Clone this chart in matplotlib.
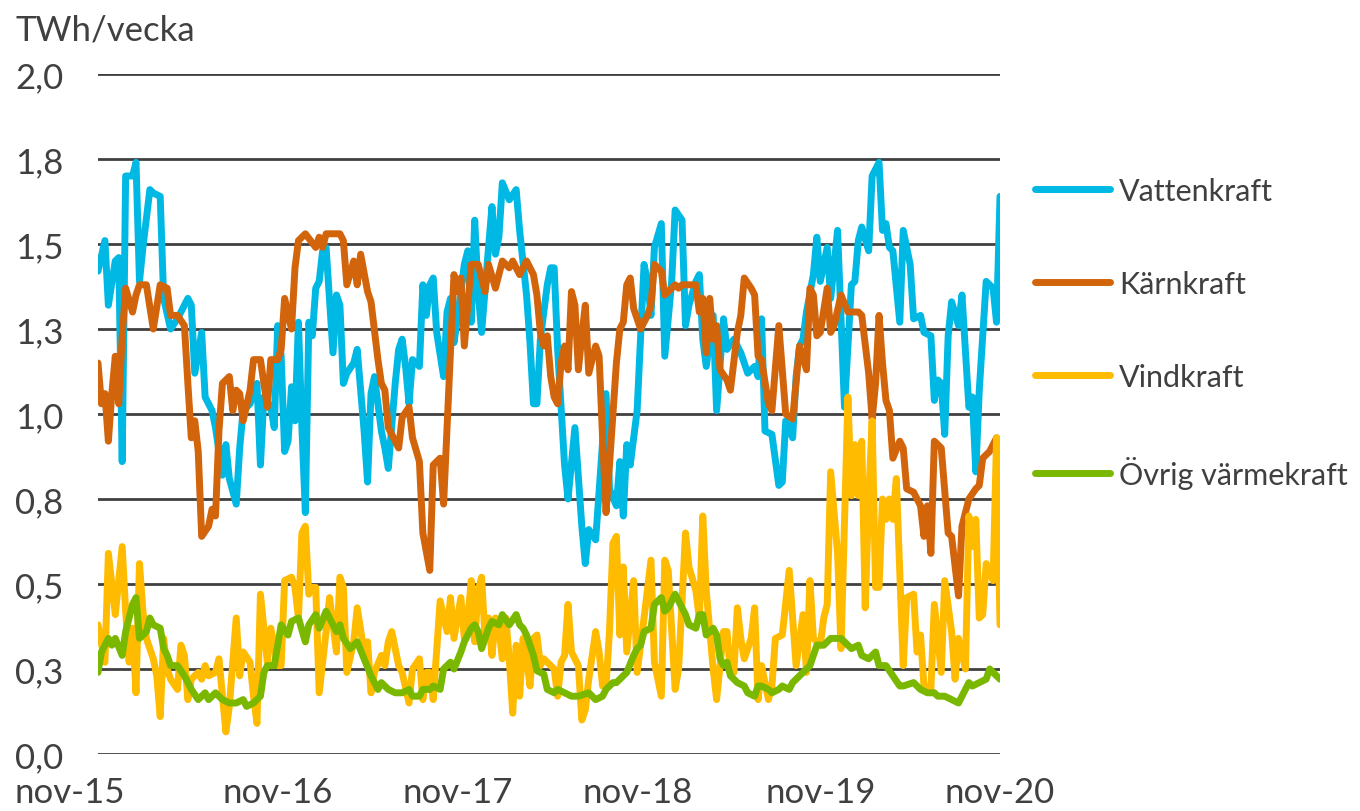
import matplotlib
matplotlib.use("Agg")
import matplotlib.pyplot as plt
import matplotlib.transforms as mtransforms

# weekly production, TWh/vecka, (week since nov-15, value)
vatten = [(0,1.42),(2,1.51),(3,1.32),(5,1.45),(6,1.46),(7,0.86),(8,1.70),(10,1.70),(11,1.74),(12,1.39),
          (13,1.49),(15,1.66),(16,1.65),(18,1.64),(19,1.34),(21,1.25),(23,1.28),(25,1.32),(26,1.34),(27,1.32),
          (28,1.12),(30,1.24),(31,1.05),(33,1.01),(34,0.96),(36,0.82),(37,0.91),(38,0.81),(40,0.735),(41,0.90),
          (42,1.01),(44,1.03),(46,1.09),(47,0.85),(48,1.05),(50,1.02),(51,0.96),(52,1.26),(53,1.17),(54,0.89),
          (55,0.92),(56,1.08),(57,0.98),(58,1.27),(59,0.96),(60,0.71),(61,1.27),(62,1.23),(63,1.37),(64,1.39),
          (65,1.48),(66,1.49),(68,1.18),(69,1.35),(70,1.32),(71,1.09),(72,1.12),(74,1.15),(75,1.19),(76,1.07),
          (77,0.95),(78,0.80),(79,1.06),(80,1.11),(82,0.95),(83,0.90),(84,0.84),(86,1.09),(87,1.19),(88,1.22),
          (89,1.14),(90,1.03),(91,1.16),(93,1.14),(94,1.38),(95,1.29),(96,1.38),(97,1.40),(98,1.24),(100,1.11),
          (101,1.30),(102,1.34),(103,1.21),(104,1.28),(106,1.44),(107,1.48),(108,1.27),(109,1.57),(110,1.36),(111,1.24),
          (113,1.49),(114,1.61),(115,1.47),(116,1.52),(117,1.68),(119,1.63),(121,1.66),(122,1.54),(124,1.35),(125,1.21),
          (126,1.03),(127,1.03),(128,1.22),(130,1.38),(131,1.43),(132,1.43),(133,1.19),(135,0.85),(136,0.75),(138,0.96),
          (140,0.67),(141,0.56),(142,0.66),(144,0.63),(147,1.06),(148,0.78),(150,0.73),(151,0.86),(152,0.70),(153,0.91),
          (154,0.85),(156,1.01),(158,1.44),(159,1.39),(160,1.29),(161,1.49),(163,1.56),(164,1.17),(166,1.39),(167,1.60),
          (169,1.57),(170,1.26),(171,1.32),(173,1.39),(174,1.41),(175,1.22),(176,1.14),(178,1.29),(179,1.01),(181,1.28),
          (182,1.19),(184,1.22),(186,1.18),(187,1.15),(188,1.12),(190,1.14),(191,1.11),(192,1.28),(193,0.95),(195,0.94),
          (197,0.79),(198,0.80),(199,0.98),(201,0.93),(202,1.11),(203,1.20),(204,1.22),(205,1.30),(207,1.41),(208,1.52),
          (209,1.39),(211,1.49),(212,1.34),(214,1.54),(216,1.02),(218,1.38),(219,1.39),(220,1.51),(221,1.55),(223,1.48),
          (224,1.70),(226,1.74),(227,1.54),(228,1.56),(229,1.49),(230,1.48),(232,1.27),(233,1.54),(235,1.44),(236,1.28),
          (238,1.29),(239,1.24),(241,1.23),(242,1.04),(243,1.10),(244,1.09),(245,0.94),(246,1.23),(247,1.33),(249,1.26),
          (250,1.35),(252,1.02),(253,1.05),(254,0.83),(255,1.07),(257,1.39),(259,1.37),(260,1.27),(261,1.64)]

karn = [(0,1.15),(1,1.03),(2,1.06),(3,0.92),(4,1.06),(5,1.17),(6,1.03),(7,1.23),(8,1.37),(10,1.30),
        (11,1.35),(12,1.38),(14,1.38),(16,1.25),(18,1.38),(20,1.37),(21,1.29),(23,1.29),(25,1.26),(26,1.09),
        (27,0.93),(28,0.98),(29,0.89),(30,0.64),(32,0.67),(33,0.72),(34,0.70),(35,0.95),(36,1.09),(38,1.11),
        (39,1.01),(40,1.07),(41,1.06),(42,0.98),(44,1.07),(45,1.16),(47,1.16),(49,1.02),(50,1.16),(52,1.16),
        (53,1.19),(54,1.34),(56,1.25),(57,1.43),(58,1.51),(60,1.53),(63,1.49),(64,1.52),(65,1.49),(66,1.53),
        (70,1.53),(71,1.51),(72,1.38),(74,1.45),(75,1.38),(76,1.47),(78,1.36),(79,1.33),(81,1.16),(82,1.09),
        (83,1.07),(84,0.96),(87,0.90),(88,0.99),(90,1.02),(91,0.93),(93,0.86),(94,0.65),(96,0.54),(97,0.85),
        (99,0.87),(100,0.735),(103,1.41),(104,1.36),(105,1.40),(106,1.20),(108,1.44),(110,1.44),(112,1.36),
        (113,1.44),(115,1.37),(117,1.45),(119,1.43),(120,1.45),(122,1.41),(124,1.45),(126,1.41),(127,1.35),(128,1.24),
        (129,1.20),(130,1.23),(131,1.11),(132,1.05),(133,1.03),(134,1.15),(135,1.20),(136,1.13),(137,1.36),(138,1.32),
        (139,1.13),(140,1.23),(141,1.32),(142,1.12),(144,1.20),(145,1.17),(146,0.93),(147,0.71),(148,0.85),(150,1.15),
        (151,1.25),(152,1.27),(153,1.38),(154,1.40),(155,1.31),(157,1.25),(159,1.29),(160,1.32),(161,1.44),(163,1.42),
        (164,1.35),(165,1.36),(167,1.38),(168,1.37),(169,1.38),(173,1.38),(174,1.30),(175,1.34),(176,1.18),(177,1.34),
        (178,1.22),(179,1.26),(180,1.13),(182,1.10),(183,1.07),(185,1.24),(186,1.29),(187,1.40),(189,1.37),(190,1.35),
        (191,1.17),(192,1.16),(194,1.03),(195,1.01),(197,1.26),(199,1.00),(201,0.985),(203,1.20),(205,1.13),(206,1.37),
        (207,1.35),(208,1.23),(209,1.24),(211,1.37),(212,1.24),(213,1.26),(215,1.35),(217,1.30),(220,1.30),(221,1.29),
        (223,1.12),(224,0.985),(225,1.09),(226,1.29),(227,1.15),(228,1.04),(229,1.01),(230,0.87),(232,0.92),(233,0.90),
        (234,0.78),(236,0.77),(238,0.73),(239,0.64),(240,0.73),(241,0.59),(242,0.92),(244,0.90),(246,0.65),(247,0.64),
        (249,0.465),(250,0.67),(252,0.75),(254,0.78),(255,0.79),(256,0.87),(258,0.89),(260,0.93),(261,0.82)]

vind = [(0,0.38),(2,0.27),(3,0.59),(5,0.41),(7,0.61),(8,0.42),(9,0.27),(10,0.37),(11,0.18),(12,0.56),
        (13,0.42),(14,0.34),(16,0.28),(17,0.23),(18,0.11),(19,0.34),(20,0.25),(21,0.22),(23,0.19),(24,0.32),
        (25,0.29),(26,0.16),(27,0.22),(29,0.24),(30,0.22),(31,0.26),(32,0.23),(34,0.24),(35,0.28),(37,0.065),
        (38,0.14),(40,0.40),(41,0.23),(42,0.30),(44,0.27),(45,0.17),(46,0.09),(47,0.47),(49,0.27),(50,0.37),
        (52,0.26),(53,0.26),(54,0.51),(56,0.52),(57,0.49),(58,0.40),(59,0.65),(60,0.67),(61,0.47),(62,0.49),
        (63,0.49),(64,0.18),(66,0.36),(67,0.46),(69,0.30),(70,0.52),(71,0.49),(72,0.24),(74,0.33),(75,0.43),
        (77,0.30),(78,0.33),(79,0.18),(80,0.24),(82,0.29),(83,0.26),(84,0.33),(85,0.36),(87,0.26),(88,0.24),
        (90,0.15),(91,0.25),(93,0.28),(94,0.16),(95,0.24),(96,0.24),(97,0.16),(99,0.45),(101,0.36),(102,0.46),
        (103,0.34),(104,0.40),(105,0.46),(106,0.34),(107,0.40),(108,0.51),(109,0.33),(110,0.48),(111,0.52),(112,0.34),
        (113,0.40),(114,0.29),(115,0.40),(116,0.37),(117,0.28),(118,0.40),(119,0.28),(120,0.12),(121,0.32),(122,0.17),
        (123,0.34),(124,0.28),(125,0.20),(126,0.34),(127,0.35),(128,0.26),(129,0.28),(132,0.25),(133,0.17),(134,0.27),
        (135,0.29),(136,0.44),(137,0.30),(139,0.26),(140,0.10),(141,0.13),(142,0.22),(144,0.36),(145,0.30),(146,0.20),
        (147,0.20),(148,0.36),(149,0.62),(150,0.64),(151,0.35),(152,0.55),(153,0.30),(155,0.51),(156,0.24),(158,0.40),
        (160,0.57),(161,0.27),(163,0.17),(164,0.57),(165,0.54),(167,0.19),(168,0.25),(170,0.65),(171,0.55),(173,0.48),
        (174,0.40),(175,0.70),(176,0.48),(178,0.25),(179,0.16),(181,0.36),(182,0.36),(183,0.24),(184,0.24),(185,0.43),
        (186,0.34),(187,0.28),(189,0.34),(190,0.43),(191,0.16),(192,0.26),(194,0.16),(195,0.20),(196,0.34),(198,0.35),
        (200,0.54),(201,0.40),(202,0.26),(204,0.41),(205,0.24),(206,0.51),(207,0.34),(209,0.32),(210,0.40),(211,0.44),
        (212,0.83),(214,0.59),(215,0.31),(217,1.05),(218,0.76),(219,0.91),(220,0.76),(221,0.92),(222,0.43),(223,0.75),
        (224,0.98),(225,0.49),(226,0.49),(227,0.75),(228,0.69),(229,0.75),(230,0.69),(231,0.81),(233,0.26),(234,0.46),
        (236,0.47),(237,0.30),(238,0.35),(239,0.20),(241,0.19),(242,0.44),(244,0.24),(245,0.51),(247,0.36),(248,0.22),
        (249,0.34),(251,0.25),(252,0.70),(253,0.61),(254,0.69),(255,0.40),(256,0.41),(257,0.56),(259,0.51),(260,0.93),
        (261,0.38)]

ovrig = [(0,0.24),(1,0.30),(3,0.34),(4,0.32),(5,0.34),(7,0.29),(8,0.36),(10,0.44),(11,0.46),(12,0.34),
         (14,0.36),(15,0.40),(16,0.38),(18,0.37),(19,0.31),(20,0.29),(21,0.26),(23,0.26),(25,0.23),(27,0.19),
         (29,0.16),(31,0.18),(32,0.16),(34,0.18),(36,0.16),(38,0.15),(40,0.15),(42,0.16),(43,0.14),(45,0.15),
         (47,0.17),(48,0.24),(49,0.26),(51,0.26),(53,0.38),(55,0.35),(56,0.39),(58,0.40),(60,0.33),(61,0.38),
         (63,0.41),(64,0.37),(66,0.42),(68,0.38),(69,0.36),(70,0.38),(71,0.34),(73,0.31),(75,0.33),(77,0.28),
         (79,0.23),(81,0.19),(82,0.21),(84,0.19),(86,0.18),(88,0.18),(90,0.19),(91,0.17),(93,0.17),(94,0.19),
         (96,0.19),(97,0.20),(99,0.19),(100,0.25),(101,0.26),(102,0.27),(103,0.25),(105,0.30),(106,0.33),(108,0.37),
         (109,0.38),(110,0.36),(111,0.31),(113,0.37),(114,0.39),(116,0.38),(117,0.41),(119,0.38),(121,0.41),(122,0.38),
         (123,0.37),(124,0.35),(126,0.29),(127,0.245),(129,0.235),(130,0.19),(132,0.18),(133,0.19),(135,0.18),(137,0.17),
         (139,0.17),(142,0.18),(143,0.17),(144,0.16),(146,0.17),(147,0.19),(149,0.21),(150,0.21),(152,0.23),(153,0.24),
         (155,0.29),(156,0.31),(157,0.32),(158,0.36),(160,0.37),(161,0.44),(163,0.46),(164,0.42),(165,0.43),(167,0.47),
         (168,0.45),(170,0.41),(171,0.38),(173,0.37),(174,0.41),(175,0.41),(176,0.35),(178,0.37),(179,0.35),(180,0.28),
         (181,0.26),(182,0.27),(183,0.23),(185,0.21),(187,0.20),(188,0.18),(190,0.17),(191,0.20),(192,0.20),(194,0.19),
         (195,0.18),(197,0.19),(198,0.20),(200,0.19),(201,0.21),(203,0.23),(205,0.25),(206,0.26),(208,0.32),(210,0.32),
         (212,0.34),(214,0.34),(215,0.34),(217,0.32),(218,0.31),(220,0.32),(221,0.29),(223,0.28),(225,0.30),(226,0.26),
         (228,0.26),(230,0.23),(232,0.20),(233,0.20),(236,0.21),(238,0.19),(240,0.18),(242,0.18),(243,0.17),(245,0.17),
         (247,0.16),(249,0.15),(250,0.17),(252,0.21),(253,0.20),(255,0.21),(257,0.22),(258,0.25),(260,0.23),(261,0.22)]

series_names = ["Vattenkraft", "Kärnkraft", "Vindkraft", "Övrig värmekraft"]
series_colors = ["#00B8E4", "#D2640C", "#FFBB00", "#7AB800"]

x_ticks = [0, 52, 104, 156, 209, 261]
x_labels = ["nov-15", "nov-16", "nov-17", "nov-18", "nov-19", "nov-20"]
y_ticks = [0, 0.25, 0.5, 0.75, 1.0, 1.25, 1.5, 1.75, 2.0]
y_labels = ["0,0", "0,3", "0,5", "0,8", "1,0", "1,3", "1,5", "1,8", "2,0"]

plt.rcParams['font.family'] = ['Lato', 'DejaVu Sans']
txt = '#404040'

fig = plt.figure(figsize=(13.6, 8.12), dpi=100)
ax = fig.add_axes([98/1360, 57/812, 902/1360, 680/812])

for data, name, col in zip([vatten, karn, vind, ovrig], series_names, series_colors):
    w = [p[0] for p in data]
    v = [p[1] for p in data]
    ax.plot(w, v, color=col, lw=5.0, label=name, solid_joinstyle='round', solid_capstyle='round')

ax.set_xlim(0, 261)
ax.set_ylim(0, 2.0)
ax.set_yticks(y_ticks)
ax.set_yticklabels(y_labels)
ax.set_xticks(x_ticks)
ax.set_xticklabels(x_labels)
ax.grid(axis='y', color='#404040', lw=2.0)
ax.set_axisbelow(True)
for s in ax.spines.values():
    s.set_visible(False)
ax.tick_params(axis='both', length=0, labelsize=25, colors=txt)
ax.tick_params(axis='y', pad=25)
ax.tick_params(axis='x', pad=16)

# first label is pushed inwards like in the original
lab0 = ax.get_xticklabels()[0]
lab0.set_transform(lab0.get_transform() + mtransforms.ScaledTranslation(-0.28, 0, fig.dpi_scale_trans))

fig.text(15/1360, 1 - 30/812, "TWh/vecka", fontsize=25, color=txt, va='center', ha='left')

leg = ax.legend(loc='center left', bbox_to_anchor=(1035/1360, 1 - 334/812),
                bbox_transform=fig.transFigure, frameon=False, fontsize=22,
                handlelength=2.45, handletextpad=0.3, labelspacing=2.13,
                borderaxespad=0, borderpad=0)
for t in leg.get_texts():
    t.set_color(txt)

fig.savefig("out.png", dpi=100)
